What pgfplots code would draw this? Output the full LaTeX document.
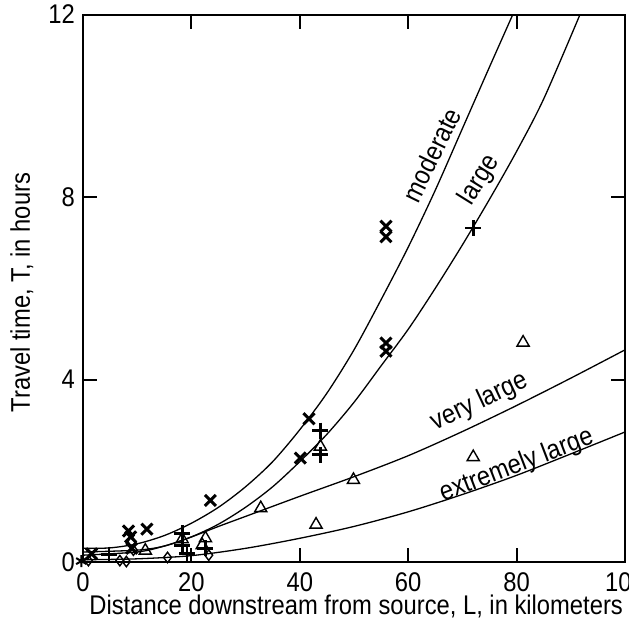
\documentclass[border=0pt]{standalone}
\usepackage{fontspec}
\setmainfont{Liberation Sans}[FakeStretch=0.88]
\usepackage{pgfplots}
\pgfplotsset{compat=1.18}
\newcommand{\lbl}{\fontsize{13.5}{16}\selectfont}

\begin{document}
\begin{tikzpicture}
\begin{axis}[
  width=271pt, height=273.75pt, scale only axis,
  xmin=0, xmax=100, ymin=0, ymax=12,
  xtick={0,20,...,100}, ytick={0,4,8,12},
  tick pos=both,
  tick align=inside, major tick length=7pt,
  axis line style={line width=1pt},
  tick style={line width=1pt, black},
  every tick label/.append style={font=\lbl},
  /pgf/number format/assume math mode=true,
  xticklabel style={yshift=-2pt},
  yticklabel style={xshift=-0.5pt},
  xlabel={Distance downstream from source, L, in kilometers},
  ylabel={Travel time, T, in hours},
  label style={font=\lbl},
  xlabel style={at={(axis description cs:0.504,-0.095)}, anchor=base},
  ylabel style={at={(axis description cs:-0.098,0.492)}, anchor=base},
  clip=false,
]
% fitted curves
\addplot[smooth, line width=0.65pt] coordinates {(0,0.3) (5,0.31) (10,0.4) (15,0.58) (20,0.85) (25,1.2) (30,1.65) (35,2.2) (40,2.9) (45,3.7) (50,4.65) (55,5.75) (60,6.9) (65,8.15) (70,9.5) (75,10.85) (79.3,12)};
\addplot[smooth, line width=0.65pt] coordinates {(0,0.22) (10,0.26) (15,0.35) (20,0.55) (25,0.83) (30,1.2) (35,1.65) (40,2.2) (45,2.8) (50,3.5) (55,4.3) (60,5.1) (65,6.0) (70,6.95) (75,7.95) (80,9.0) (85,10.15) (91.7,12)};
\addplot[smooth, line width=0.65pt] coordinates {(0,0.15) (10,0.22) (15,0.35) (20,0.55) (25,0.78) (30,1.0) (40,1.44) (50,1.87) (60,2.33) (70,2.86) (80,3.43) (90,4.03) (100,4.65)};
\addplot[smooth, line width=0.65pt] coordinates {(0,0.05) (10,0.07) (20,0.14) (30,0.3) (40,0.52) (50,0.78) (60,1.1) (70,1.48) (80,1.9) (90,2.37) (100,2.85)};

% observations
\addplot[only marks, mark=x, mark size=3.9pt, line width=1.5pt] coordinates {(1.6,0.18) (8.4,0.68) (8.8,0.55) (9.0,0.3) (11.8,0.72) (23.5,1.35) (40.1,2.28) (41.7,3.14) (55.9,4.62) (55.9,4.8) (55.9,7.13) (55.9,7.36)};
\addplot[only marks, mark=+, mark size=4pt, line width=1.4pt] coordinates {(4.8,0.16) (18.3,0.63) (18.3,0.37) (19.2,0.19) (22.6,0.3) (43.8,2.35) (43.8,2.88) (72,7.32)};
\addplot[only marks, mark=triangle, mark size=3.5pt, line width=0.7pt] coordinates {(11.5,0.25) (18.3,0.5) (22.6,0.52) (22.0,0.37) (32.8,1.18) (43,0.82) (43.8,2.53) (49.9,1.8) (72,2.3) (81.2,4.81)};
\addplot[only marks, mark=diamond, mark size=2.6pt, line width=0.7pt] coordinates {(1.0,0.03) (6.8,0.03) (8.0,0.01) (9.0,0.45) (9.3,0.26) (15.6,0.1) (23.2,0.15)};
\addplot[only marks, mark=asterisk, mark size=3pt, line width=1pt] coordinates {(-0.3,0.02)};

\node[rotate=64, font=\lbl] at (axis cs:64.3,8.92) {moderate};
\node[rotate=58, font=\lbl] at (axis cs:73.2,8.37) {large};
\node[rotate=25, font=\lbl] at (axis cs:73.2,3.51) {very large};
\node[rotate=21, font=\lbl] at (axis cs:80,2.11) {extremely large};

\coordinate (bbl) at (rel axis cs:-0.1531,-0.1132);
\coordinate (btr) at (rel axis cs:1.0074,1.0265);
\end{axis}
\pgfresetboundingbox
\useasboundingbox (bbl) rectangle (btr);
\end{tikzpicture}
\end{document}
